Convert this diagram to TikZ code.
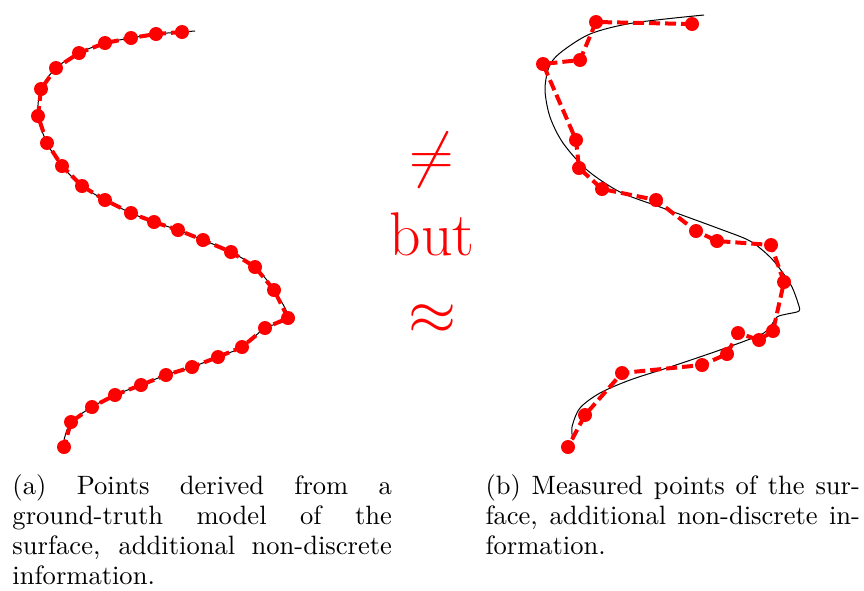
\documentclass[tikz,border=0pt]{standalone}
\usepackage{tikz}
\tikzset{
  curve/.style={black, line width=1pt},
  reddash/.style={red, line width=4pt, dash pattern=on 11pt off 5pt},
  dot/.style={circle, fill=red, inner sep=0pt, minimum size=14pt},
  bigsym/.style={red, scale=2.48, inner sep=0pt, anchor=base},
  capt/.style={scale=2.48, inner sep=0pt, anchor=base west, font=\fontsize{10.7}{12.1}\selectfont}
}
\begin{document}
\begin{tikzpicture}[x=1pt,y=-1pt]
\useasboundingbox (0,0) rectangle (864,590);
% ---------- left: ground-truth model ----------
\foreach \x/\y [count=\i] in {182/32,156/34,131/38,105/43,79/53,56/68,41/89,38/116,47/143,62/166,82/186,105/200,131/213,154/222,178/230,203/240,231/252,255/267,274/290,288/318,265/328,242/347,218/357,192/367,166/375,141/385,115/395,92/407,71/422,64/447}
  \coordinate (l\i) at (\x,\y);
\draw[curve] plot[smooth] coordinates {(195,31) (182,32) (156,34) (131,38) (105,43) (79,53) (56,68) (41,89) (38,116) (47,143) (62,166) (82,186) (105,200) (131,213) (154,222) (178,230) (203,240) (231,252) (255,267) (274,290) (288,318) (265,328) (242,347) (218,357) (192,367) (166,375) (141,385) (115,395) (92,407) (71,422) (64,440)};
\draw[reddash] (l1) \foreach \i in {2,...,30} { -- (l\i) };
\foreach \i in {1,...,30} \node[dot] (dl\i) at (l\i) {};
% ---------- right: measured ----------
\foreach \x/\y [count=\i] in {692/24,596/22,580/60,543/64,576/140,579/168,602/189,656/200,696/231,717/241,771/245,784/282,773/331,759/340,738/333,727/354,702/365,622/373,585/415,568/447}
  \coordinate (r\i) at (\x,\y);
\draw[curve] plot[smooth] coordinates {(704,15) (633,23) (590,34) (560,53) (549,67) (545,90) (550,117) (563,143) (587,170) (620,192) (660,207) (720,229) (750,241) (770,257) (783,273) (792,287) (798,303) (799,311) (787,314) (777,317) (770,327) (760,335) (720,350) (670,367) (630,380) (600,393) (580,408) (572,427) (573,440)};
\draw[reddash] (r1) \foreach \i in {2,...,20} { -- (r\i) };
\foreach \i in {1,...,20} \node[dot] (dr\i) at (r\i) {};
% ---------- middle symbols ----------
\node[bigsym] (neq) at (432,175) {\Huge$\neq$};
\node[bigsym] (but) at (432,255) {\Huge but};
\node[bigsym] (approx) at (432,334) {\Huge$\approx$};
% ---------- captions ----------
\node[capt] (capa) at (12,494) {\parbox[t]{153pt}{(a) Points derived from a\linebreak ground-truth model of the\linebreak surface, additional non-discrete\linebreak information.}};
\node[capt] (capb) at (485,494) {\parbox[t]{151pt}{(b) Measured points of the sur-\linebreak face, additional non-discrete in-\linebreak formation.}};
\end{tikzpicture}
\end{document}
